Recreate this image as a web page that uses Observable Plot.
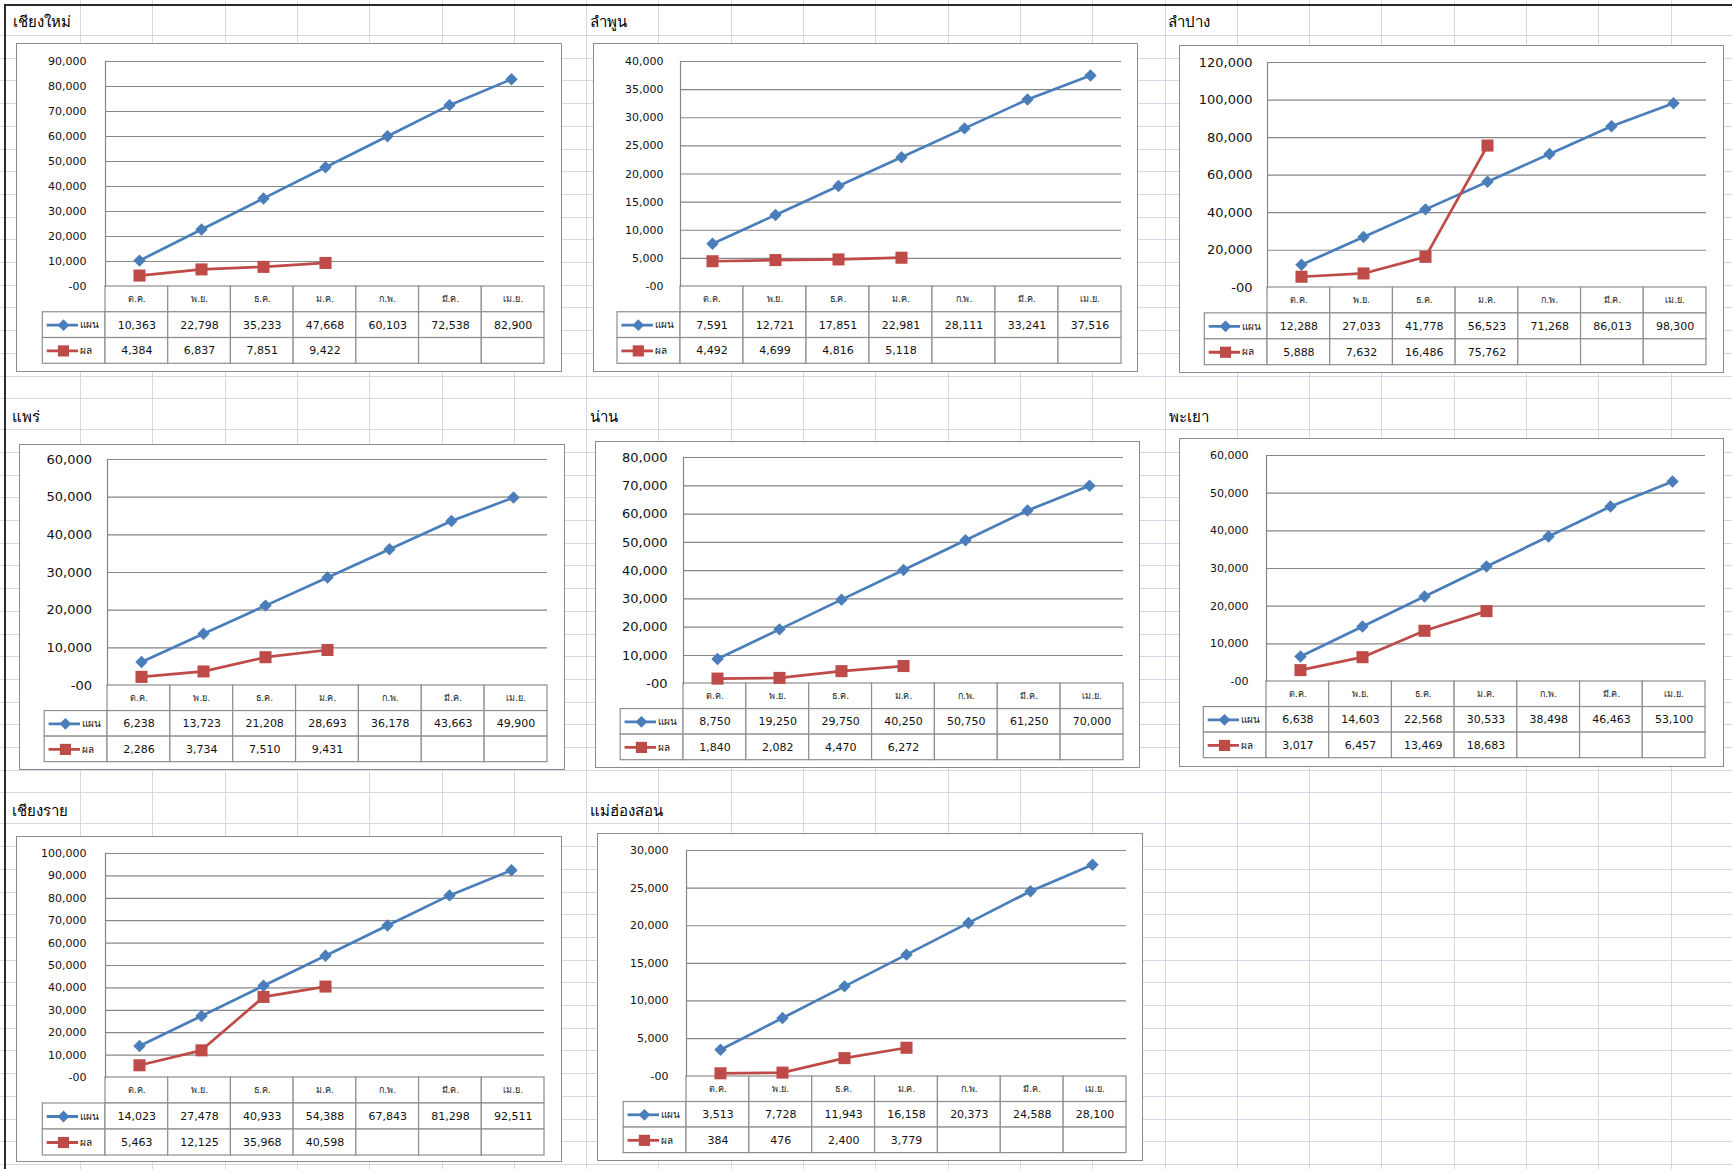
<!DOCTYPE html>
<html>
<head>
<meta charset="utf-8">
<script src="https://cdn.jsdelivr.net/npm/d3@7"></script>
<script src="https://cdn.jsdelivr.net/npm/@observablehq/plot@0.6"></script>
<style>
  html, body { margin: 0; padding: 0; background: #fff; }
  #sheet { position: relative; width: 1732px; height: 1169px; overflow: hidden; background: #fff;
           font-family: Tahoma, "DejaVu Sans", "Noto Sans", sans-serif; }
  .gv { position: absolute; top: 0; width: 1px; height: 1169px; background: #d3d9e6; }
  .gh { position: absolute; left: 0; height: 1px; width: 1732px; background: #d3d9e6; }
  .box { position: absolute; background: #fff; border: 1.5px solid #8c8c8c; box-sizing: border-box; }
  .title { position: absolute; font-size: 15px; line-height: 15px; color: #000; white-space: nowrap; }
  .layer { position: absolute; }
  .layer svg { max-width: none !important; overflow: visible; background: transparent; }
</style>
</head>
<body>
<div id="sheet"></div>
<script>
// ---------------- DATA ----------------
const months = ["ต.ค.", "พ.ย.", "ธ.ค.", "ม.ค.", "ก.พ.", "มี.ค.", "เม.ย."];
const seriesNames = ["แผน", "ผล"];
const provinces = ["เชียงใหม่", "ลำพูน", "ลำปาง", "แพร่", "น่าน", "พะเยา", "เชียงราย", "แม่ฮ่องสอน"];
const planValues = [
  [10363, 22798, 35233, 47668, 60103, 72538, 82900],
  [7591, 12721, 17851, 22981, 28111, 33241, 37516],
  [12288, 27033, 41778, 56523, 71268, 86013, 98300],
  [6238, 13723, 21208, 28693, 36178, 43663, 49900],
  [8750, 19250, 29750, 40250, 50750, 61250, 70000],
  [6638, 14603, 22568, 30533, 38498, 46463, 53100],
  [14023, 27478, 40933, 54388, 67843, 81298, 92511],
  [3513, 7728, 11943, 16158, 20373, 24588, 28100]
];
const actualValues = [
  [4384, 6837, 7851, 9422],
  [4492, 4699, 4816, 5118],
  [5888, 7632, 16486, 75762],
  [2286, 3734, 7510, 9431],
  [1840, 2082, 4470, 6272],
  [3017, 6457, 13469, 18683],
  [5463, 12125, 35968, 40598],
  [384, 476, 2400, 3779]
];
const yMax  = [90000, 40000, 120000, 60000, 80000, 60000, 100000, 30000];
const yStep = [10000, 5000, 20000, 10000, 10000, 10000, 10000, 5000];
const zeroLabel = "-00";

// ---------------- LAYOUT ----------------
const boxes = [[16,43,562,372],[593,43,1138,372],[1179,45,1724,373],
               [19,444,565,770],[595,441,1140,768],[1179,438,1724,767],
               [16,836,562,1162],[597,833,1143,1161]];
const plotLR = [[105,544],[680,1121],[1267,1706],[107,547],[683,1123],[1266,1705],[105,544],[686,1126]];
const plotTop = [61,61,62,459,457,455,853,850];
const rowLines = [[286,311.7,337.3,363.3],[286,311.7,337.3,363.3],[287.3,313.3,339.3,365],
                  [685,710.7,736.7,761.7],[683.3,708.3,735,760],[681,706.7,732.3,757.7],
                  [1077,1102.7,1129.3,1155],[1075.7,1101,1126.7,1152.3]];
const labelRight = [86,663,1252,91.5,667,1248,86,668];
const labelSize = [11,11,13,13,13,11,11,11];
const titleXY = [[13,28],[590,28],[1168,28],[12,423],[590,423],[1169,423],[12,817],[590,817]];

const BLUE = "#4a7ebb", RED = "#be4b48", GRID = "#868686", CELL = "#8e8e8e";
const FONT = 'Tahoma, "DejaVu Sans", "Noto Sans", sans-serif';

const sheet = document.getElementById("sheet");

// spreadsheet background grid
for (let x = 80; x < 1732; x += 72.3) {
  const d = document.createElement("div"); d.className = "gv"; d.style.left = x + "px"; sheet.appendChild(d);
}
{
  const ys = [35]; let y = 35;
  for (let b = 0; b < 3; b++) {
    for (let k = 0; k < 16; k++) { y += 22.7; ys.push(y); }
    if (b < 2) { y += 31; ys.push(y); }
  }
  for (const yy of ys) if (yy < 1169) {
    const d = document.createElement("div"); d.className = "gh"; d.style.top = yy + "px"; sheet.appendChild(d);
  }
}
// sheet frame lines
{
  const t = document.createElement("div");
  Object.assign(t.style, {position: "absolute", left: "4px", top: "4px", width: "1732px", height: "2px", background: "#2a2a2a"});
  const l = document.createElement("div");
  Object.assign(l.style, {position: "absolute", left: "4px", top: "4px", width: "2px", height: "1169px", background: "#2a2a2a"});
  sheet.appendChild(t); sheet.appendChild(l);
}

const fmt = d => d === 0 ? zeroLabel : d3.format(",")(d);

function place(el, left, top) {
  const w = document.createElement("div");
  w.className = "layer"; w.style.left = left + "px"; w.style.top = top + "px";
  w.appendChild(el); sheet.appendChild(w);
}

provinces.forEach((name, i) => {
  const [bx0, by0, bx1, by1] = boxes[i];
  const [pl, pr] = plotLR[i];
  const rows = rowLines[i];
  const zero = rows[0];

  // title
  const t = document.createElement("div");
  t.className = "title"; t.textContent = name;
  t.style.left = titleXY[i][0] + "px"; t.style.top = (titleXY[i][1] - 13) + "px";
  sheet.appendChild(t);

  // chart box
  const box = document.createElement("div");
  box.className = "box";
  Object.assign(box.style, {left: bx0 + "px", top: by0 + "px", width: (bx1 - bx0) + "px", height: (by1 - by0) + "px"});
  sheet.appendChild(box);

  const W = bx1 - bx0;

  // ----- data table -----
  const tableCells = [];
  months.forEach((m, j) => tableCells.push({c: j, r: 0, text: m, kind: "head"}));
  seriesNames.forEach((s, k) => {
    const vals = k === 0 ? planValues[i] : actualValues[i];
    tableCells.push({c: -1, r: k + 1, text: "", kind: "legend"});
    months.forEach((m, j) => tableCells.push({c: j, r: k + 1, text: vals[j] === undefined ? "" : d3.format(",")(vals[j]), kind: "val"}));
  });
  const legendRows = seriesNames.map((s, k) => ({r: k + 1, name: s, color: k === 0 ? BLUE : RED, symbol: k === 0 ? "diamond2" : "square", size: k === 0 ? 5.3 : 6.3}));

  const tableH = rows[3] - rows[0];
  const table = Plot.plot({
    width: W, height: tableH + 4,
    marginLeft: pl - bx0, marginRight: bx1 - pr, marginTop: 0, marginBottom: 4,
    x: {type: "linear", domain: [0, months.length], axis: null},
    y: {type: "linear", domain: [3, 0], axis: null},
    r: {type: "identity"},
    style: {fontFamily: FONT, color: "#000", background: "transparent", overflow: "visible"},
    marks: [
      Plot.rect(tableCells, {x1: d => d.c, x2: d => d.c + 1, y1: d => d.r, y2: d => d.r + 1, fill: "white", stroke: CELL, strokeWidth: 1.2}),
      Plot.text(tableCells.filter(d => d.kind === "head"), {x: d => d.c + 0.5, y: d => d.r + 0.5, text: "text", fontSize: 9, fill: "#222"}),
      Plot.text(tableCells.filter(d => d.kind === "val"), {x: d => d.c + 0.5, y: d => d.r + 0.5, text: "text", fontSize: 11, fill: "#111"}),
      Plot.ruleY(legendRows, {x1: -0.93, x2: -0.43, y: d => d.r + 0.5, stroke: "color", strokeWidth: 2.8}),
      Plot.dot(legendRows, {x: -0.67, y: d => d.r + 0.5, symbol: "symbol", r: "size", fill: "color", stroke: "none"}),
      Plot.text(legendRows, {x: -0.41, y: d => d.r + 0.5, text: "name", textAnchor: "start", fontSize: 10, fill: "#111"})
    ]
  });
  place(table, bx0, zero);

  // ----- chart -----
  const planRows = months.map((m, j) => ({month: m, value: planValues[i][j]}));
  const actRows = actualValues[i].map((v, j) => ({month: months[j], value: v}));
  const ticks = d3.range(0, yMax[i] + yStep[i] / 2, yStep[i]);
  const mb = 14;
  const chart = Plot.plot({
    width: W, height: zero - by0 + mb,
    marginLeft: pl - bx0, marginRight: bx1 - pr, marginTop: plotTop[i] - by0, marginBottom: mb,
    x: {type: "point", domain: months, padding: 0.5, axis: null},
    y: {type: "linear", domain: [0, yMax[i]], axis: null},
    style: {fontFamily: FONT, color: "#000", background: "transparent", overflow: "visible"},
    marks: [
      Plot.ruleY(ticks.filter(d => d > 0), {stroke: GRID, strokeWidth: 1.2}),
      Plot.axisY(ticks, {tickSize: 0, tickPadding: pl - labelRight[i], tickFormat: fmt, fontSize: labelSize[i], fill: "#111", label: null}),
      Plot.frame({anchor: "left", stroke: GRID, strokeWidth: 1.2}),
      Plot.line(planRows, {x: "month", y: "value", stroke: BLUE, strokeWidth: 2.7}),
      Plot.dot(planRows, {x: "month", y: "value", symbol: "diamond2", r: 5.6, fill: BLUE, stroke: "none"}),
      Plot.line(actRows, {x: "month", y: "value", stroke: RED, strokeWidth: 2.7}),
      Plot.dot(actRows, {x: "month", y: "value", symbol: "square", r: 6.8, fill: RED, stroke: "none"})
    ]
  });
  place(chart, bx0, by0);
});
</script>
</body>
</html>
